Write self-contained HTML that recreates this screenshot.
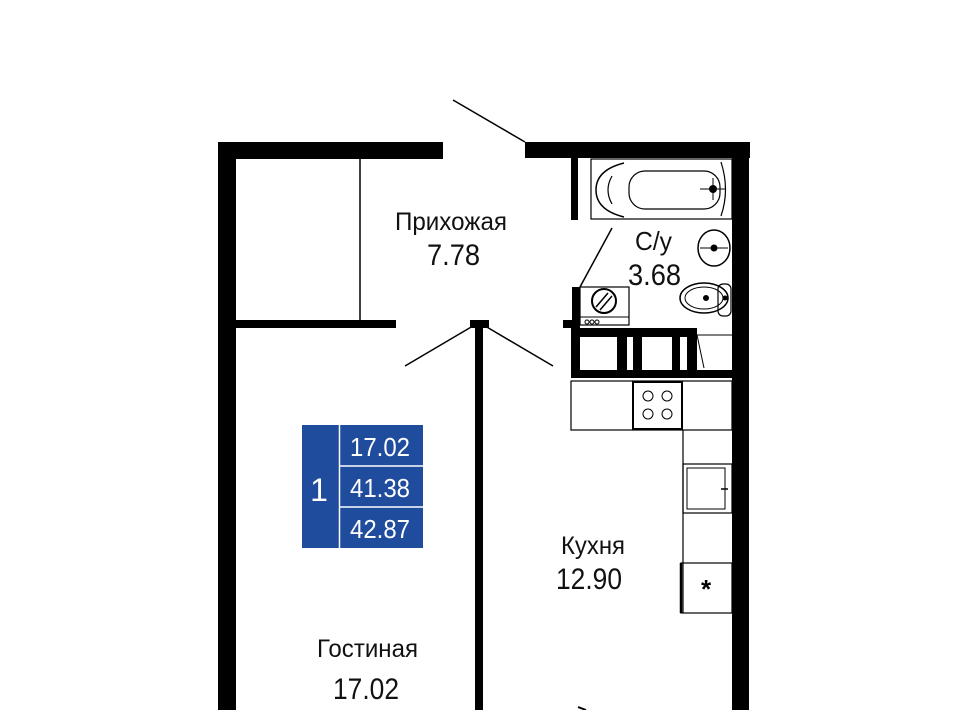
<!DOCTYPE html>
<html><head><meta charset="utf-8"><style>
html,body{margin:0;padding:0;background:#fff;}
svg{display:block;}
text{font-family:"Liberation Sans",Arial,sans-serif;}
</style></head><body>
<svg width="960" height="710" viewBox="0 0 960 710" xmlns="http://www.w3.org/2000/svg">
<rect width="960" height="710" fill="#fff"/>
<rect x="218" y="142" width="225" height="17" fill="#000"/>
<rect x="218" y="142" width="18" height="568" fill="#000"/>
<rect x="525" y="142" width="225" height="16" fill="#000"/>
<rect x="732" y="142" width="17" height="568" fill="#000"/>
<line x1="453" y1="100" x2="525" y2="142" stroke="#000" stroke-width="1.5"/>
<line x1="360" y1="159" x2="360" y2="321" stroke="#000" stroke-width="1.5"/>
<rect x="236" y="320" width="160" height="8" fill="#000"/>
<rect x="470" y="320" width="19" height="8" fill="#000"/>
<rect x="475" y="320" width="8" height="390" fill="#000"/>
<line x1="478" y1="323" x2="405" y2="366" stroke="#000" stroke-width="1.5"/>
<line x1="480" y1="323" x2="553" y2="366" stroke="#000" stroke-width="1.5"/>
<rect x="571" y="158" width="7" height="62" fill="#000"/>
<rect x="591" y="159" width="141" height="60" fill="none" stroke="#000" stroke-width="1.2"/>
<path d="M624 163 Q596 170 596 190 Q596 210 624 217" fill="none" stroke="#000" stroke-width="1.5"/>
<path d="M612 176 Q604 190 612 204" fill="none" stroke="#000" stroke-width="1.2"/>
<rect x="629" y="171" width="91" height="38" rx="16" fill="none" stroke="#000" stroke-width="1.2"/>
<path d="M721 162 Q730 190 721 216" fill="none" stroke="#000" stroke-width="1.2"/>
<circle cx="713" cy="189" r="4" fill="#000"/><line x1="700" y1="189" x2="725" y2="189" stroke="#000"/><line x1="713" y1="178" x2="713" y2="200" stroke="#000"/>
<line x1="612" y1="228" x2="580" y2="287" stroke="#000" stroke-width="1.5"/>
<ellipse cx="714" cy="248" rx="16" ry="18" fill="none" stroke="#000" stroke-width="1.5"/>
<line x1="700" y1="248" x2="728" y2="248" stroke="#000"/><circle cx="714" cy="248" r="3.5" fill="#000"/>
<ellipse cx="704" cy="298" rx="24" ry="15" fill="none" stroke="#000" stroke-width="1.5"/>
<ellipse cx="704" cy="298" rx="19" ry="11" fill="none" stroke="#000" stroke-width="1"/>
<rect x="718" y="284" width="13" height="32" rx="5" fill="none" stroke="#000" stroke-width="1.2"/>
<circle cx="706" cy="298" r="3" fill="#000"/><circle cx="725" cy="298" r="2.5" fill="#000"/>
<text x="635" y="250" font-size="26" textLength="37" lengthAdjust="spacingAndGlyphs" fill="#111">С/у</text>
<text x="628" y="285" font-size="30" textLength="53" lengthAdjust="spacingAndGlyphs" fill="#111">3.68</text>
<rect x="572" y="287" width="8" height="41" fill="#000"/>
<rect x="563" y="320" width="10" height="8" fill="#000"/>
<rect x="580" y="287" width="49" height="38" fill="none" stroke="#000" stroke-width="1.2"/>
<circle cx="604" cy="301" r="12" fill="none" stroke="#000" stroke-width="2"/>
<line x1="596" y1="307" x2="608" y2="293" stroke="#000" stroke-width="1.5"/><line x1="600" y1="310" x2="612" y2="296" stroke="#000" stroke-width="1.5"/>
<line x1="580" y1="317" x2="629" y2="317" stroke="#000"/>
<circle cx="587" cy="322" r="2" fill="none" stroke="#000"/><circle cx="592" cy="322" r="2" fill="none" stroke="#000"/><circle cx="597" cy="322" r="2" fill="none" stroke="#000"/>
<rect x="571" y="328" width="126" height="50" fill="#000"/>
<rect x="697" y="370" width="35" height="8" fill="#000"/>
<rect x="580" y="337" width="37" height="33" fill="#fff"/>
<rect x="627" y="337" width="6" height="33" fill="#fff"/>
<rect x="642" y="337" width="30" height="33" fill="#fff"/>
<rect x="680" y="337" width="7" height="33" fill="#fff"/>
<line x1="697" y1="335" x2="704" y2="368" stroke="#000"/>
<line x1="697" y1="335" x2="732" y2="335" stroke="#000"/>
<rect x="571" y="381" width="161" height="49" fill="none" stroke="#000" stroke-width="1.2"/>
<rect x="633" y="382" width="49" height="47" fill="none" stroke="#000" stroke-width="2"/>
<circle cx="648" cy="396" r="5" fill="none" stroke="#000"/><circle cx="667" cy="396" r="5" fill="none" stroke="#000"/>
<circle cx="648" cy="414" r="5" fill="none" stroke="#000"/><circle cx="667" cy="414" r="5" fill="none" stroke="#000"/>
<line x1="683" y1="430" x2="683" y2="613" stroke="#000" stroke-width="1.2"/>
<rect x="683" y="464" width="49" height="49" fill="none" stroke="#000" stroke-width="1.2"/>
<rect x="687" y="468" width="38" height="41" fill="none" stroke="#000" stroke-width="1"/>
<line x1="721" y1="489" x2="728" y2="489" stroke="#000" stroke-width="1.5"/>
<rect x="681" y="563" width="51" height="50" fill="none" stroke="#000" stroke-width="1.2"/>
<line x1="681" y1="563" x2="681" y2="613" stroke="#000" stroke-width="2.5"/>
<text x="706" y="598" font-size="26" text-anchor="middle" font-weight="bold" fill="#000">*</text>
<text x="395" y="230" font-size="25" textLength="112" lengthAdjust="spacingAndGlyphs" fill="#111">Прихожая</text>
<text x="427" y="265" font-size="30" textLength="53" lengthAdjust="spacingAndGlyphs" fill="#111">7.78</text>
<text x="561" y="554" font-size="25" textLength="64" lengthAdjust="spacingAndGlyphs" fill="#111">Кухня</text>
<text x="556" y="589" font-size="30" textLength="66" lengthAdjust="spacingAndGlyphs" fill="#111">12.90</text>
<text x="317" y="657" font-size="25" textLength="101" lengthAdjust="spacingAndGlyphs" fill="#111">Гостиная</text>
<text x="333" y="699" font-size="30" textLength="66" lengthAdjust="spacingAndGlyphs" fill="#111">17.02</text>
<rect x="302" y="425" width="121" height="123" fill="#1f4c9c"/>
<line x1="339.5" y1="425" x2="339.5" y2="548" stroke="#fff" stroke-width="1.5"/>
<line x1="340" y1="466" x2="423" y2="466" stroke="#fff" stroke-width="1.5"/>
<line x1="340" y1="507" x2="423" y2="507" stroke="#fff" stroke-width="1.5"/>
<text x="319" y="501" font-size="32" text-anchor="middle" fill="#fff">1</text>
<text x="350" y="456" font-size="26" textLength="60" lengthAdjust="spacingAndGlyphs" fill="#fff">17.02</text>
<text x="350" y="497" font-size="26" textLength="60" lengthAdjust="spacingAndGlyphs" fill="#fff">41.38</text>
<text x="350" y="538" font-size="26" textLength="60" lengthAdjust="spacingAndGlyphs" fill="#fff">42.87</text>
<line x1="578" y1="707" x2="586" y2="710" stroke="#000" stroke-width="2"/>
</svg>
</body></html>
